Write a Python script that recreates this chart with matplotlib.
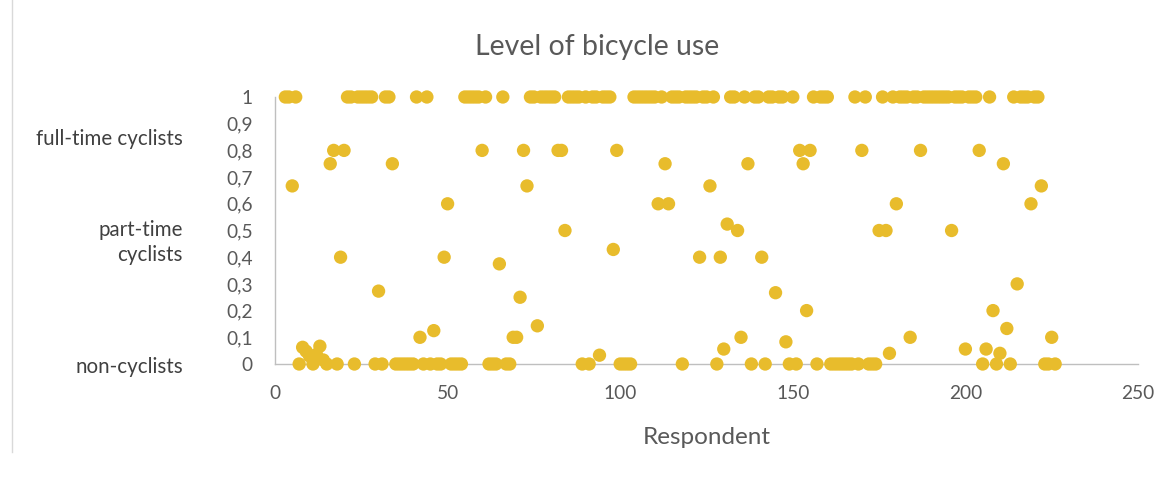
import numpy as np
import matplotlib
matplotlib.use("Agg")
import matplotlib.pyplot as plt
from matplotlib.lines import Line2D
from matplotlib.transforms import blended_transform_factory

# Share of trips made by bicycle, one value per respondent (numbering starts at 3)
first_respondent = 3
level = [
    1, 1, 0.667, 1, 0, 0.0625, 0.048,                      # 3-9
    0.03, 0, 0.036, 0.0667, 0.015, 0, 0.75, 0.8, 0, 0.4,    # 10-19
    0.8, 1, 1, 0, 1, 1, 1, 1, 1, 0,                         # 20-29
    0.273, 0, 1, 1, 0.75, 0, 0, 0, 0, 0,                    # 30-39
    0, 1, 0.1, 0, 1, 0, 0.125, 0, 0, 0.4,                   # 40-49
    0.6, 0, 0, 0, 0, 1, 1, 1, 1, 1,                         # 50-59
    0.8, 1, 0, 0, 0, 0.375, 1, 0, 0, 0.1,                   # 60-69
    0.1, 0.25, 0.8, 0.667, 1, 1, 0.143, 1, 1, 1,            # 70-79
    1, 1, 0.8, 0.8, 0.5, 1, 1, 1, 1, 0,                     # 80-89
    1, 0, 1, 1, 0.033, 1, 1, 1, 0.429, 0.8,                 # 90-99
    0, 0, 0, 0, 1, 1, 1, 1, 1, 1,                           # 100-109
    1, 0.6, 1, 0.75, 0.6, 1, 1, 1, 0, 1,                    # 110-119
    1, 1, 1, 0.4, 1, 1, 0.667, 1, 0, 0.4,                   # 120-129
    0.056, 0.524, 1, 1, 0.5, 0.1, 1, 0.75, 0, 1,            # 130-139
    1, 0.4, 0, 1, 1, 0.267, 1, 1, 0.083, 0,                 # 140-149
    1, 0, 0.8, 0.75, 0.2, 0.8, 1, 0, 1, 1,                  # 150-159
    1, 0, 0, 0, 0, 0, 0, 0, 1, 0,                           # 160-169
    0.8, 1, 0, 0, 0, 0.5, 1, 0.5, 0.04, 1,                  # 170-179
    0.6, 1, 1, 1, 0.1, 1, 1, 0.8, 1, 1,                     # 180-189
    1, 1, 1, 1, 1, 1, 0.5, 1, 1, 1,                         # 190-199
    0.056, 1, 1, 1, 0.8, 0, 0.056, 1, 0.2, 0,               # 200-209
    0.04, 0.75, 0.133, 0, 1, 0.3, 1, 1, 1, 0.6,             # 210-219
    1, 1, 0.667, 0, 0, 0.1, 0,                              # 220-226
]
respondent = np.arange(first_respondent, first_respondent + len(level))

x_ticks = [0, 50, 100, 150, 200, 250]
y_ticks = [0, 0.1, 0.2, 0.3, 0.4, 0.5, 0.6, 0.7, 0.8, 0.9, 1]
y_tick_labels = ["0", "0,1", "0,2", "0,3", "0,4", "0,5", "0,6", "0,7", "0,8", "0,9", "1"]
group_labels = ["full-time cyclists", "part-time\ncyclists", "non-cyclists"]
group_levels = [0.842, 0.455, -0.012]

plt.rcParams["font.family"] = ["Lato", "DejaVu Sans"]

W, H = 1171, 478
fig = plt.figure(figsize=(W / 100, H / 100), dpi=100)
ax = fig.add_axes([275 / W, 1 - 364 / H, (1138 - 275) / W, (364 - 97) / H])

marker_color = "#E8BC2C"
ax.scatter(respondent, level, s=92, color=marker_color, edgecolors="none",
           clip_on=False, zorder=3)

ax.set_xlim(0, 250)
ax.set_ylim(0, 1)
ax.set_xticks(x_ticks)
ax.set_yticks(y_ticks)
ax.set_yticklabels(y_tick_labels)

tick_color = "#595959"
ax.tick_params(axis="both", length=0, labelsize=13.8, colors=tick_color)
ax.tick_params(axis="y", pad=16)
ax.tick_params(axis="x", pad=15)

for side in ("top", "right"):
    ax.spines[side].set_visible(False)
for side in ("left", "bottom"):
    ax.spines[side].set_color("#BFBFBF")
    ax.spines[side].set_linewidth(1.0)

fig.text(597 / W, 1 - 47 / H, "Level of bicycle use", ha="center", va="center",
         fontsize=20.5, color=tick_color)
fig.text(707 / W, 1 - 437 / H, "Respondent", ha="center", va="center",
         fontsize=17.5, color=tick_color)

trans = blended_transform_factory(ax.transAxes, ax.transData)
label_x = (183 - 275) / (1138 - 275)
for text, yv in zip(group_labels, group_levels):
    ax.text(label_x, yv, text, transform=trans, ha="right", va="center",
            fontsize=14.8, color="#404040", linespacing=1.3)

# Chart frame edge on the left
fig.add_artist(Line2D([12 / W, 12 / W], [1 - 452 / H, 1.0], transform=fig.transFigure,
                      color="#D9D9D9", linewidth=1.0))

fig.savefig("out.png", dpi=100)
